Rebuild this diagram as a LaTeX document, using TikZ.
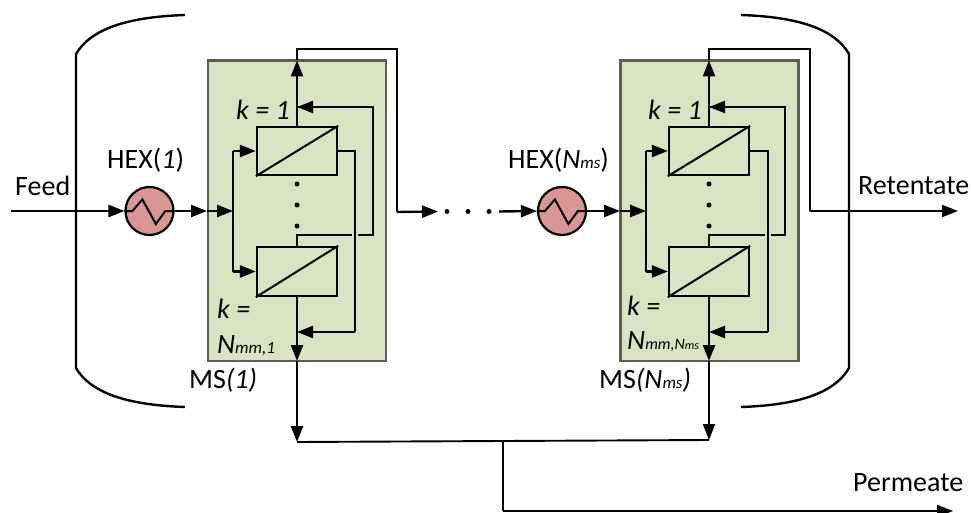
\documentclass[tikz,border=0pt]{standalone}
\usepackage{fontspec}
\setmainfont{Carlito}
\usetikzlibrary{arrows.meta}
\definecolor{msgreen}{HTML}{D8E3C2}
\definecolor{msborder}{HTML}{5A5F55}
\definecolor{hexred}{HTML}{D99694}
\newcommand{\smalltxt}[1]{{\fontsize{17}{17}\selectfont #1}}
\tikzset{
    flow/.style={line width=2.4pt, -{Triangle[length=16pt,width=12pt]}},
    pipe/.style={line width=2.4pt},
    thinpipe/.style={line width=1.9pt},
    msbox/.style={draw=msborder, fill=msgreen, line width=2.6pt, minimum width=178pt, minimum height=300.5pt, inner sep=0pt},
    membrane/.style={draw, line width=2.4pt, minimum width=80pt, minimum height=48pt, inner sep=0pt},
    hexchanger/.style={draw, circle, fill=hexred, line width=2.2pt, minimum size=48pt, inner sep=0pt},
    dotnode/.style={circle, fill, minimum size=5pt, inner sep=0pt},
    lbl/.style={anchor=base west, inner sep=0pt, font=\fontsize{28}{32}\selectfont}
}
\begin{document}
\begin{tikzpicture}[x=1pt, y=-1pt]
    \useasboundingbox (0,0) rectangle (971,513);

    % Outer brackets
    \draw[pipe] (185,15) .. controls (125,17) and (90,30) .. (76,54) -- (76,368) .. controls (90,392) and (125,405) .. (185,407);
    \draw[pipe] (741,15) .. controls (801,17) and (835,30) .. (849,54) -- (849,368) .. controls (835,392) and (801,405) .. (741,407);

    % First stage
    \node[msbox] (msA) at (297,210.7) {};
    \node[membrane] (topA) at (297,151) {};
    \node[membrane, minimum height=49pt] (lowA) at (297,271.5) {};
    \draw[line width=2pt] (topA.south west) -- (topA.north east);
    \draw[line width=2pt] (lowA.south west) -- (lowA.north east);
    \node[dotnode] (dotA1) at (297,184) {};
    \node[dotnode] (dotA2) at (297,205) {};
    \node[dotnode] (dotA3) at (297,226) {};
    \node[hexchanger] (hexA) at (149.5,211) {};
    \draw[line width=2pt] (hexA.west) -- ++(8,0) -- ++(10,-11.5) -- ++(13.5,24.5) -- ++(9.5,-13) -- (hexA.east);

    \coordinate (feedin) at (11,211);
    \coordinate (tipA) at (207,211);
    \coordinate (inA) at (233,211);
    \coordinate (backA1) at (297,107);
    \coordinate (backA2) at (373,235);
    \coordinate (crossA1) at (352,235);
    \coordinate (crossA2) at (358,235);
    \coordinate (riseA) at (297,235);
    \coordinate (downA) at (355,332);
    \coordinate (retA1) at (297,60.5);
    \coordinate (retA2) at (297,49);
    \coordinate (retA3) at (397,212);
    \coordinate (permA1) at (297,361);
    \coordinate (permA2) at (297,442);
    \coordinate (sideA) at (297,332);

    \draw[flow] (feedin) -- (hexA.west);
    \draw[flow] (hexA.east) -- (tipA);
    \draw[flow] (tipA) -- (inA);
    \draw[pipe] (inA |- topA.west) -- (inA |- lowA.west);
    \draw[flow] (inA |- topA.west) -- (topA.west);
    \draw[flow] (inA |- lowA.west) -- (lowA.west);
    \draw[flow] (topA.north) -- (retA1);
    \draw[pipe] (topA.east) -| (downA);
    \draw[flow] (downA) -- (sideA);
    \draw[pipe] (lowA.north) -- (riseA) -- (crossA1);
    \draw[pipe] (crossA2) -- (backA2) |- (backA1);
    \draw[flow] (backA2 |- backA1) -- (backA1);
    \draw[flow] (lowA.south) -- (permA1);
    \draw[flow] (permA1) -- (permA2);
    \draw[thinpipe] (retA1) -- (retA2) -| (retA3);

    % Dots between the stages
    \coordinate (tipdots) at (438,211.5);
    \coordinate (afterdots) at (499,211.5);
    \draw[flow] (retA3) -- (tipdots);
    \node[dotnode] (dotM1) at (447,211.5) {};
    \node[dotnode] (dotM2) at (468,211.5) {};
    \node[dotnode] (dotM3) at (489,211.5) {};

    % Last stage
    \node[msbox] (msB) at (709.5,210.7) {};
    \node[membrane] (topB) at (709,151) {};
    \node[membrane, minimum height=49pt] (lowB) at (709,271.5) {};
    \draw[line width=2pt] (topB.south west) -- (topB.north east);
    \draw[line width=2pt] (lowB.south west) -- (lowB.north east);
    \node[dotnode] (dotB1) at (709,184) {};
    \node[dotnode] (dotB2) at (709,205) {};
    \node[dotnode] (dotB3) at (709,226) {};
    \node[hexchanger] (hexB) at (562,211) {};
    \draw[line width=2pt] (hexB.west) -- ++(8,0) -- ++(10,-11.5) -- ++(13.5,24.5) -- ++(9.5,-13) -- (hexB.east);

    \coordinate (tipB) at (620,211);
    \coordinate (inB) at (646,211);
    \coordinate (backB1) at (709,107);
    \coordinate (backB2) at (785,235);
    \coordinate (crossB1) at (765,235);
    \coordinate (crossB2) at (771,235);
    \coordinate (riseB) at (709,235);
    \coordinate (downB) at (768,332);
    \coordinate (retB1) at (709,60.5);
    \coordinate (retB2) at (709,49);
    \coordinate (retB3) at (810,211);
    \coordinate (retout) at (958,211);
    \coordinate (permB1) at (709,361);
    \coordinate (permB2) at (709,440);
    \coordinate (sideB) at (709,332);

    \draw[flow] (afterdots) -- (hexB.west);
    \draw[flow] (hexB.east) -- (tipB);
    \draw[flow] (tipB) -- (inB);
    \draw[pipe] (inB |- topB.west) -- (inB |- lowB.west);
    \draw[flow] (inB |- topB.west) -- (topB.west);
    \draw[flow] (inB |- lowB.west) -- (lowB.west);
    \draw[flow] (topB.north) -- (retB1);
    \draw[pipe] (topB.east) -| (downB);
    \draw[flow] (downB) -- (sideB);
    \draw[pipe] (lowB.north) -- (riseB) -- (crossB1);
    \draw[pipe] (crossB2) -- (backB2) |- (backB1);
    \draw[flow] (backB2 |- backB1) -- (backB1);
    \draw[flow] (lowB.south) -- (permB1);
    \draw[flow, line width=1.9pt] (permB1) -- (permB2);
    \draw[thinpipe] (retB1) -- (retB2) -| (retB3);
    \draw[flow, line width=1.9pt] (retB3) -- (retout);

    % Permeate collector
    \coordinate (permjoin) at (503,441);
    \coordinate (permcorner) at (503,511);
    \coordinate (permout) at (953,511);
    \draw[thinpipe] (permA2) -- (permB2);
    \draw[thinpipe] (permjoin) -- (permcorner);
    \draw[flow, line width=1.9pt] (permcorner) -- (permout);

    % Labels
    \node[lbl] (feedlbl) at (15,196) {Feed};
    \node[lbl] (retlbl) at (858,195) {Retentate};
    \node[lbl] (permlbl) at (853,491) {Permeate};
    \node[lbl] (hexAlbl) at (107,168) {HEX(\textit{1})};
    \node[lbl] (hexBlbl) at (508,168) {HEX(\textit{N\smalltxt{ms}})};
    \node[lbl] (kAtop) at (236,120) {\textit{k = 1}};
    \node[lbl] (kBtop) at (648,120) {\textit{k = 1}};
    \node[lbl] (kAlow) at (217,318) {\textit{k =}};
    \node[lbl] (kBlow) at (627,315) {\textit{k =}};
    \node[lbl] (nA) at (217,353) {\textit{N\smalltxt{mm,1}}};
    \node[lbl] (nB) at (627,349) {\textit{N{\fontsize{16}{16}\selectfont mm,N\fontsize{12}{12}\selectfont ms}}};
    \node[lbl] (msAlbl) at (189,388) {MS\textit{(1)}};
    \node[lbl] (msBlbl) at (599,388) {MS\textit{(N\smalltxt{ms})}};

\end{tikzpicture}
\end{document}
